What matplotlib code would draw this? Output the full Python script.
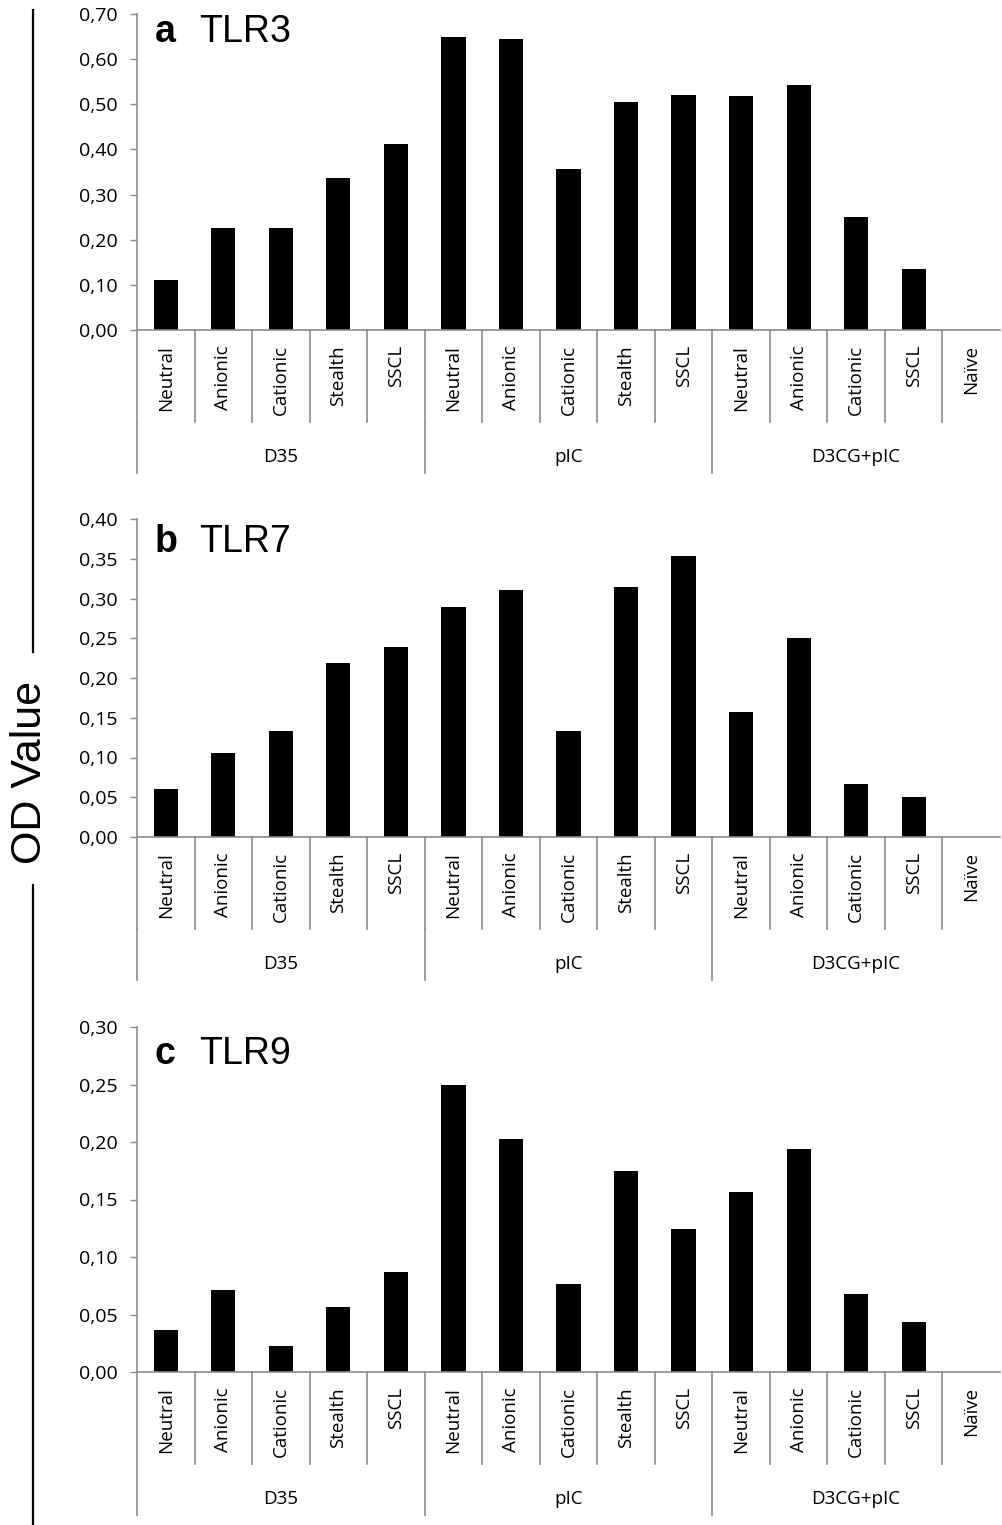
import matplotlib
matplotlib.use("Agg")
import matplotlib.pyplot as plt
from matplotlib.lines import Line2D
import numpy as np

W, H = 1002, 1525

CATEGORIES = ["Neutral", "Anionic", "Cationic", "Stealth", "SSCL",
              "Neutral", "Anionic", "Cationic", "Stealth", "SSCL",
              "Neutral", "Anionic", "Cationic", "SSCL", "Naïve"]
GROUPS = ["D35", "pIC", "D3CG+pIC"]
GROUP_SPANS = [(0, 4), (5, 9), (10, 14)]

TLR3 = [0.111, 0.226, 0.226, 0.337, 0.412,
        0.649, 0.645, 0.357, 0.505, 0.521,
        0.518, 0.543, 0.250, 0.135, 0.0]
TLR7 = [0.060, 0.106, 0.133, 0.219, 0.239,
        0.289, 0.311, 0.133, 0.314, 0.353,
        0.157, 0.250, 0.067, 0.050, 0.0]
TLR9 = [0.0365, 0.071, 0.0226, 0.0565, 0.087,
        0.2496, 0.2026, 0.0765, 0.1748, 0.1243,
        0.1565, 0.194, 0.068, 0.0435, 0.0]

PANELS = [("a", "TLR3", TLR3, 0.70, 0.10),
          ("b", "TLR7", TLR7, 0.40, 0.05),
          ("c", "TLR9", TLR9, 0.30, 0.05)]

# pixel boxes (top, bottom) of each plot area and title baseline
BOXES = [(14, 330, 42), (519, 837, 552), (1027, 1372, 1064)]
LEFT, RIGHT = 137, 1000

GRAY = "#8c8c8c"
LABEL_FONT = "Open Sans"
TITLE_FONT = "Liberation Sans"

fig = plt.figure(figsize=(W / 100, H / 100), dpi=100)

x = np.arange(len(CATEGORIES))

for (letter, name, vals, ymax, step), (top, bot, base) in zip(PANELS, BOXES):
    ax = fig.add_axes([LEFT / W, 1 - bot / H, (RIGHT - LEFT) / W, (bot - top) / H])
    ax.bar(x, vals, width=0.42, color="black")
    ax.set_xlim(-0.5, len(CATEGORIES) - 0.5)
    ax.set_ylim(0, ymax)
    ticks = np.arange(0, ymax + step / 2, step)
    ax.set_yticks(ticks)
    ax.set_yticklabels([f"{t:.2f}".replace(".", ",") for t in ticks],
                       fontfamily=LABEL_FONT, fontsize=14)
    ax.tick_params(axis="y", direction="out", length=5, width=1, color=GRAY, pad=9)
    ax.set_xticks([])
    for s in ["top", "right"]:
        ax.spines[s].set_visible(False)
    for s in ["left", "bottom"]:
        ax.spines[s].set_color(GRAY)
        ax.spines[s].set_linewidth(1.2)

    hpx = bot - top
    tr = ax.get_xaxis_transform()

    def fy(px):
        return -px / hpx

    # category level
    for i, c in enumerate(CATEGORIES):
        ax.text(i, fy(15), c, transform=tr, rotation=90, ha="center", va="top",
                fontfamily=LABEL_FONT, fontsize=13.5)
    for b in np.arange(-0.5, len(CATEGORIES) - 1, 1.0):
        ax.plot([b, b], [0, fy(92)], transform=tr, color=GRAY, lw=1.2,
                clip_on=False)
    # group level
    for g, (i0, i1) in zip(GROUPS, GROUP_SPANS):
        ax.text((i0 + i1) / 2, fy(127), g, transform=tr, ha="center", va="center",
                fontfamily=LABEL_FONT, fontsize=13.5)
        ax.plot([i0 - 0.5, i0 - 0.5], [fy(92), fy(143)], transform=tr,
                color=GRAY, lw=1.2, clip_on=False)

    yb = (bot - base) / hpx
    ax.text((155 - LEFT) / (RIGHT - LEFT), yb, letter, transform=ax.transAxes,
            fontfamily=TITLE_FONT, fontweight="bold", fontsize=27, va="baseline")
    ax.text((199 - LEFT) / (RIGHT - LEFT), yb, name, transform=ax.transAxes,
            fontfamily=TITLE_FONT, fontsize=27, va="baseline")

# shared y-axis title with its bracket line
lx = 33 / W
fig.add_artist(Line2D([lx, lx], [1 - 10 / H, 1 - 652 / H], color="black", lw=1.6))
fig.add_artist(Line2D([lx, lx], [1 - 885 / H, 0], color="black", lw=1.6))
fig.text(30 / W, 1 - 772 / H, "OD Value", rotation=90, ha="center", va="center",
         fontfamily=TITLE_FONT, fontsize=31)

fig.savefig("out.png", dpi=100, facecolor="white")
